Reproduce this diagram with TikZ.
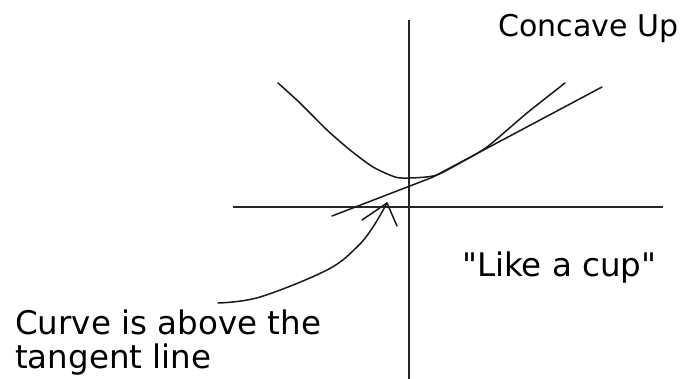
\documentclass[tikz,border=0pt]{standalone}
\usepackage{fontspec}
\setmainfont{DejaVu Sans}[Ligatures=TeXOff]
\usetikzlibrary{positioning}

\begin{document}
\begin{tikzpicture}[x=1pt,y=-1pt,
    axis/.style={line width=2pt, black!85},
    sketch/.style={line width=1.5pt, black!90, line cap=round, line join=round},
    label/.style={inner sep=0pt, font=\fontsize{31}{34}\selectfont, anchor=base west}]
    \useasboundingbox (0,0) rectangle (691,379);
    % axes
    \coordinate (ytop) at (409,20);
    \coordinate (ybot) at (409,379);
    \coordinate (xleft) at (233,207);
    \coordinate (xright) at (663,207);
    \draw[axis] (ytop) -- (ybot);
    \draw[axis] (xleft) -- (xright);
    % the cup
    \draw[sketch] plot[smooth, tension=0.4] coordinates {(278,83) (300,103) (327,130) (350,150) (373,167) (397,177.5) (420,177.5) (437,175) (460,163) (487,147) (527,113) (565,83)};
    % tangent line
    \coordinate (tA) at (332,216);
    \coordinate (tM) at (432,177.5);
    \coordinate (tB) at (602,87);
    \draw[sketch] (tA) -- (tM) -- (tB);
    % labels
    \node[label, font=\fontsize{30}{34}\selectfont] (concave) at (498,37) {Concave Up};
    \node[label, font=\fontsize{32.5}{34}\selectfont] (cup) at (462,277) {"Like a cup"};
    \node[label, font=\fontsize{32.5}{33.5}\selectfont, align=left, anchor=north west] (note) at (15,310) {Curve is above the\\tangent line};
    % pointer
    \coordinate (tail) at (218,303);
    \coordinate (tip) at (387,203);
    \draw[sketch] plot[smooth, tension=0.6] coordinates {(tail) (260,297) (327,270) (357,247) (373,227) (tip)};
    \draw[sketch] (362,220) -- (tip) -- (397,226);
\end{tikzpicture}
\end{document}
